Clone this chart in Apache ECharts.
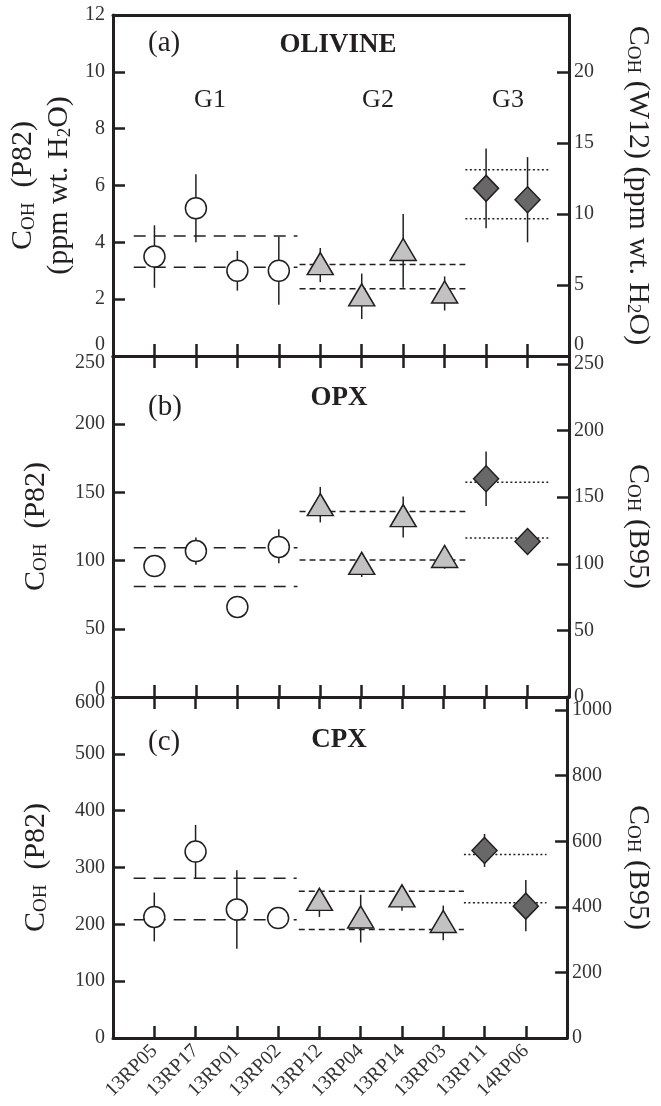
<!DOCTYPE html>
<html><head><meta charset="utf-8">
<script src="https://cdn.jsdelivr.net/npm/echarts@6/dist/echarts.min.js"></script>
<style>html,body{margin:0;padding:0;background:#fff}#c{width:661px;height:1106px}</style>
</head><body><div id="c"></div>
<script>
// ---- data ----
const categories = ['13RP05','13RP17','13RP01','13RP02','13RP12','13RP04','13RP14','13RP03','13RP11','14RP06'];
const groupOf = [0,0,0,0,1,1,1,1,2,2];
const groupNames = ['G1','G2','G3'];
const groupSpan = [[0.5,4.45],[4.5,8.5],[8.5,10.5]];

const olivine     = [3.5, 5.2, 3.0, 3.0, 3.25, 2.15, 3.75, 2.25, 5.9, 5.5];
const olivineLow  = [2.4, 4.0, 2.3, 1.8, 2.6, 1.3, 2.4, 1.6, 4.5, 4.0];
const olivineHigh = [4.6, 6.4, 3.7, 4.2, 3.8, 2.9, 5.0, 2.8, 7.3, 7.0];
const olivineGroupLines = [[4.22,3.12],[3.22,2.37],[6.55,4.83]];

const opx     = [96, 107, 66, 110, 141, 98, 133, 103, 160, 114];
const opxLow  = [null, 97, null, 98, 128, 88, 117, 94, 140, null];
const opxHigh = [null, 117, null, 123, 154, 103, 147, 111, 180, null];
const opxGroupLines = [[109.5,81],[136,100.5],[157.5,116.5]];

const cpx     = [213, 328, 226, 211, 244, 213, 250, 205, 330, 232];
const cpxLow  = [170, 281, 157, null, 213, 168, 224, 172, 301, 188];
const cpxHigh = [256, 375, 295, null, 262, 252, 268, 233, 359, 278];
const cpxGroupLines = [[281,208],[258,191],[323,238]];

const leftMax = [12, 250, 600];
const leftInterval = [2, 50, 100];
const rightMax = [24, 256, 1040];
const rightTicks = [[0,5,10,15,20],[0,50,100,150,200,250],[0,200,400,600,800,1000]];
const panelLetters = ['(a)','(b)','(c)'];
const panelTitles = ['OLIVINE','OPX','CPX'];

// ---- style ----
const FONT = '"Liberation Serif","DejaVu Serif",serif';
const AX = '#231f20';
const TICKC = '#333333';
const LABSIZE = 20;
const GRID_TOP = [15, 356, 697];
const GRID_H = 341;
const dashTypes = [[12,8],[6,4],[2,2.5]];
const catTicks = categories.map((_, i) => i + 1);

const panels = [
  {v: olivine, lo: olivineLow, hi: olivineHigh, gl: olivineGroupLines,
   lname: '{c|C}{s|OH}{c|  (P82)}\n{c|(ppm wt. H}{s|2}{c|O)}',
   rname: '{c|C}{s|OH}{c| (W12) (ppm wt. H}{s|2}{c|O)}', lgap: 36},
  {v: opx, lo: opxLow, hi: opxHigh, gl: opxGroupLines,
   lname: '{c|C}{s|OH}{c|  (P82)}', rname: '{c|C}{s|OH}{c| (B95)}', lgap: 62},
  {v: cpx, lo: cpxLow, hi: cpxHigh, gl: cpxGroupLines,
   lname: '{c|C}{s|OH}{c|  (P82)}', rname: '{c|C}{s|OH}{c| (B95)}', lgap: 62}
];

const nameRich = {
  c: {fontSize: 30, fontFamily: FONT, color: AX, lineHeight: 36, verticalAlign: 'bottom'},
  s: {fontSize: 19, fontFamily: FONT, color: AX, lineHeight: 14, verticalAlign: 'bottom'}
};
const labRich = (pad) => ({fontSize: LABSIZE, fontFamily: FONT, color: TICKC, padding: pad});

const grid = [], xAxis = [], yAxis = [], series = [];
const shifts = [ // [minPad, maxPad] for left labels
  [[0,0,22,0], null], [[0,0,14,0],[14,0,0,0]], [null,[12,0,0,0]]
];

panels.forEach((p, i) => {
  grid.push({left: 113, width: 460, top: GRID_TOP[i], height: GRID_H});
  const axLine = {show: true, onZero: false, lineStyle: {color: AX, width: 3}};
  xAxis.push({type: 'value', gridIndex: i, position: 'bottom', min: 0, max: 11,
    axisLine: axLine, splitLine: {show: false},
    axisTick: {show: true, inside: true, length: 12, customValues: catTicks, lineStyle: {color: AX, width: 2.5}},
    axisLabel: {show: i === 2, customValues: catTicks, rotate: 45, margin: 10,
      fontFamily: FONT, fontSize: LABSIZE, color: TICKC,
      formatter: v => categories[Math.round(v) - 1] || ''}});
  xAxis.push({type: 'value', gridIndex: i, position: 'top', min: 0, max: 11,
    axisLine: axLine, splitLine: {show: false},
    axisTick: {show: i > 0, inside: true, length: 12, customValues: catTicks, lineStyle: {color: AX, width: 2.5}},
    axisLabel: {show: false}});
  const sh = shifts[i];
  const lmin = 0, lmax = leftMax[i];
  yAxis.push({type: 'value', gridIndex: i, position: 'left', min: 0, max: lmax, interval: leftInterval[i],
    axisLine: axLine, splitLine: {show: false},
    axisTick: {show: true, inside: true, length: 12, lineStyle: {color: AX, width: 2.5}},
    axisLabel: {margin: 8, fontFamily: FONT, fontSize: LABSIZE, color: TICKC,
      formatter: v => (v === lmin && sh[0]) ? '{lo|' + v + '}' : (v === lmax && sh[1]) ? '{hi|' + v + '}' : '' + v,
      rich: {lo: labRich(sh[0] || [0,0,0,0]), hi: labRich(sh[1] || [0,0,0,0])}},
    name: p.lname, nameLocation: 'middle', nameRotate: 90, nameGap: p.lgap,
    nameTextStyle: {fontFamily: FONT, color: AX, rich: nameRich}});
  const rt = rightTicks[i];
  yAxis.push({type: 'value', gridIndex: i, position: 'right', min: 0, max: rightMax[i],
    axisLine: axLine, splitLine: {show: false},
    axisTick: {show: true, inside: true, length: 12, customValues: rt, lineStyle: {color: AX, width: 2.5}},
    axisLabel: {margin: 5, customValues: rt, fontFamily: FONT, fontSize: LABSIZE, color: TICKC,
      formatter: v => (i === 0 && v === 0) ? '{lo|0}' : '' + v,
      rich: {lo: labRich([0,0,22,0])}},
    name: p.rname, nameLocation: 'middle', nameRotate: -90, nameGap: 54,
    nameTextStyle: {fontFamily: FONT, color: AX, rich: nameRich}});

  const xi = i * 2, yi = i * 2;
  p.gl.forEach((vals, g) => {
    vals.forEach(val => {
      series.push({type: 'line', xAxisIndex: xi, yAxisIndex: yi, silent: true, symbol: 'none', z: 1,
        data: [[groupSpan[g][0], val], [groupSpan[g][1], val]],
        lineStyle: {color: AX, width: 1.5, type: dashTypes[g]}});
    });
  });
  const err = [];
  p.v.forEach((_, k) => { if (p.lo[k] != null && p.hi[k] != null) err.push([k + 1, p.lo[k], p.hi[k]]); });
  series.push({type: 'custom', xAxisIndex: xi, yAxisIndex: yi, z: 2, silent: true,
    encode: {x: 0, y: [1, 2]}, data: err,
    renderItem: (params, api) => {
      const a = api.coord([api.value(0), api.value(1)]);
      const b = api.coord([api.value(0), api.value(2)]);
      return {type: 'line', shape: {x1: a[0], y1: a[1], x2: b[0], y2: b[1]},
        style: {stroke: AX, lineWidth: 1.5}};
    }});
  const marks = [
    {symbol: 'circle', size: 21, color: '#ffffff'},
    {symbol: 'triangle', size: [26, 22], color: '#c2c2c2'},
    {symbol: 'diamond', size: [25, 26], color: '#686868'}
  ];
  marks.forEach((m, g) => {
    const d = [];
    p.v.forEach((val, k) => { if (groupOf[k] === g) d.push([k + 1, val]); });
    series.push({type: 'scatter', xAxisIndex: xi, yAxisIndex: yi, z: 3, symbol: m.symbol, symbolSize: m.size,
      itemStyle: {color: m.color, borderColor: AX, borderWidth: 1.5, opacity: 1}, data: d});
  });
});

const txt = (x, y, text, size, bold, align) => ({type: 'text', x, y,
  style: {text, font: (bold ? 'bold ' : '') + size + 'px ' + FONT, fill: AX,
    textAlign: align || 'center', textVerticalAlign: 'middle'}});
const graphic = [
  txt(148, 43, panelLetters[0], 29, false, 'left'), txt(338, 45, panelTitles[0], 27, true),
  txt(210, 100, groupNames[0], 26), txt(378, 100, groupNames[1], 26), txt(508, 100, groupNames[2], 26),
  txt(148, 407, panelLetters[1], 29, false, 'left'), txt(339, 398, panelTitles[1], 27, true),
  txt(148, 742, panelLetters[2], 29, false, 'left'), txt(339, 740, panelTitles[2], 27, true)
];

const chart = echarts.init(document.getElementById('c'), null, {renderer: 'canvas'});
chart.setOption({animation: false, backgroundColor: '#fff', grid, xAxis, yAxis, series, graphic});
</script></body></html>
